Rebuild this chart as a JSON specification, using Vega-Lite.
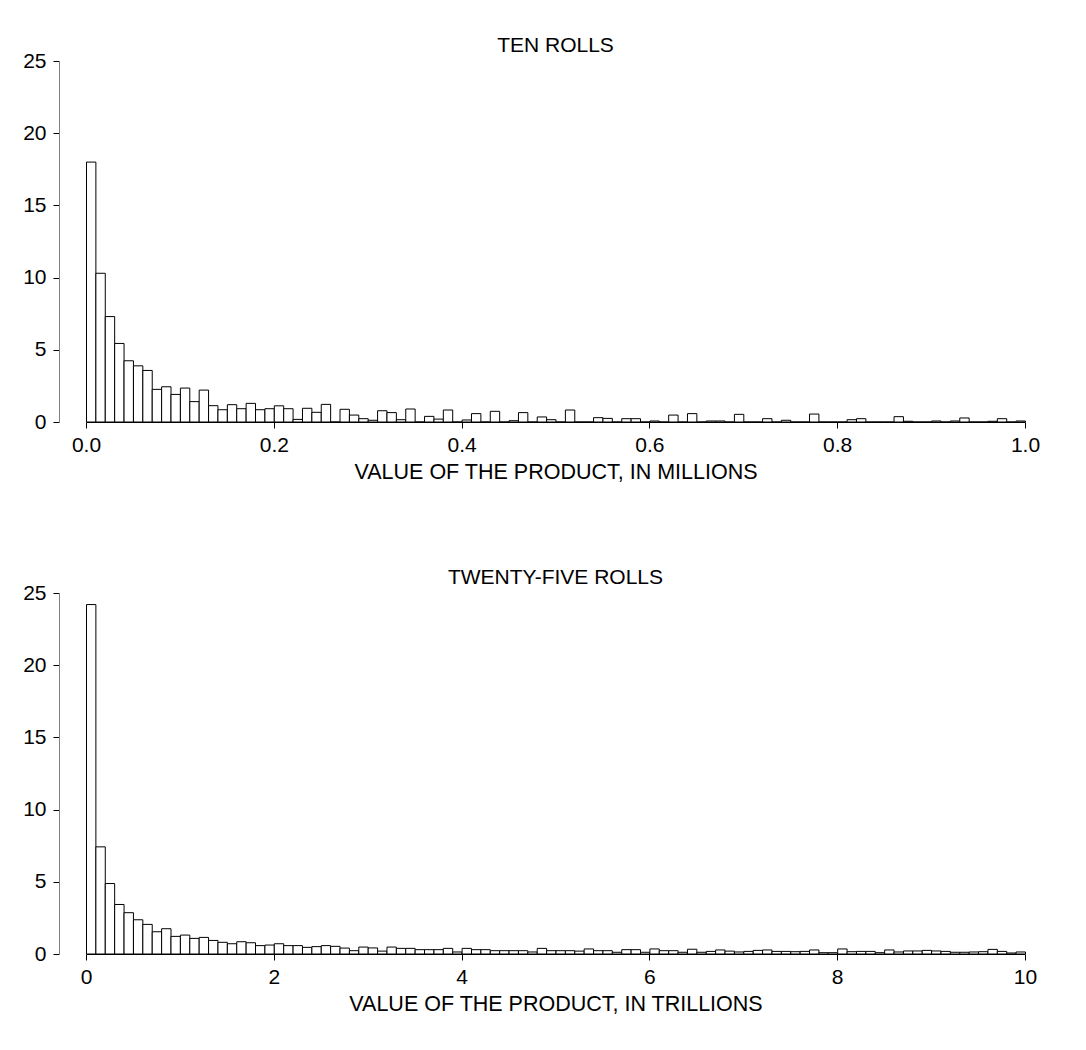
{
  "$schema": "https://vega.github.io/schema/vega-lite/v6.json",
  "background": "white",
  "padding": {"left": 22, "top": 35, "right": 10, "bottom": 10},
  "spacing": 84,
  "datasets": {
    "ten": [
      {"bin_start": 0.00, "bin_end": 0.01, "percent": 18.0},
      {"bin_start": 0.01, "bin_end": 0.02, "percent": 10.3},
      {"bin_start": 0.02, "bin_end": 0.03, "percent": 7.3},
      {"bin_start": 0.03, "bin_end": 0.04, "percent": 5.44},
      {"bin_start": 0.04, "bin_end": 0.05, "percent": 4.24},
      {"bin_start": 0.05, "bin_end": 0.06, "percent": 3.89},
      {"bin_start": 0.06, "bin_end": 0.07, "percent": 3.57},
      {"bin_start": 0.07, "bin_end": 0.08, "percent": 2.26},
      {"bin_start": 0.08, "bin_end": 0.09, "percent": 2.44},
      {"bin_start": 0.09, "bin_end": 0.10, "percent": 1.91},
      {"bin_start": 0.10, "bin_end": 0.11, "percent": 2.35},
      {"bin_start": 0.11, "bin_end": 0.12, "percent": 1.41},
      {"bin_start": 0.12, "bin_end": 0.13, "percent": 2.21},
      {"bin_start": 0.13, "bin_end": 0.14, "percent": 1.13},
      {"bin_start": 0.14, "bin_end": 0.15, "percent": 0.85},
      {"bin_start": 0.15, "bin_end": 0.16, "percent": 1.2},
      {"bin_start": 0.16, "bin_end": 0.17, "percent": 0.92},
      {"bin_start": 0.17, "bin_end": 0.18, "percent": 1.29},
      {"bin_start": 0.18, "bin_end": 0.19, "percent": 0.85},
      {"bin_start": 0.19, "bin_end": 0.20, "percent": 0.92},
      {"bin_start": 0.20, "bin_end": 0.21, "percent": 1.12},
      {"bin_start": 0.21, "bin_end": 0.22, "percent": 0.92},
      {"bin_start": 0.22, "bin_end": 0.23, "percent": 0.18},
      {"bin_start": 0.23, "bin_end": 0.24, "percent": 0.95},
      {"bin_start": 0.24, "bin_end": 0.25, "percent": 0.67},
      {"bin_start": 0.25, "bin_end": 0.26, "percent": 1.22},
      {"bin_start": 0.26, "bin_end": 0.27, "percent": 0},
      {"bin_start": 0.27, "bin_end": 0.28, "percent": 0.88},
      {"bin_start": 0.28, "bin_end": 0.29, "percent": 0.48},
      {"bin_start": 0.29, "bin_end": 0.30, "percent": 0.23},
      {"bin_start": 0.30, "bin_end": 0.31, "percent": 0.12},
      {"bin_start": 0.31, "bin_end": 0.32, "percent": 0.78},
      {"bin_start": 0.32, "bin_end": 0.33, "percent": 0.65},
      {"bin_start": 0.33, "bin_end": 0.34, "percent": 0.16},
      {"bin_start": 0.34, "bin_end": 0.35, "percent": 0.9},
      {"bin_start": 0.35, "bin_end": 0.36, "percent": 0},
      {"bin_start": 0.36, "bin_end": 0.37, "percent": 0.39},
      {"bin_start": 0.37, "bin_end": 0.38, "percent": 0.2},
      {"bin_start": 0.38, "bin_end": 0.39, "percent": 0.83},
      {"bin_start": 0.39, "bin_end": 0.40, "percent": 0},
      {"bin_start": 0.40, "bin_end": 0.41, "percent": 0.14},
      {"bin_start": 0.41, "bin_end": 0.42, "percent": 0.58},
      {"bin_start": 0.42, "bin_end": 0.43, "percent": 0},
      {"bin_start": 0.43, "bin_end": 0.44, "percent": 0.74},
      {"bin_start": 0.44, "bin_end": 0.45, "percent": 0},
      {"bin_start": 0.45, "bin_end": 0.46, "percent": 0.09},
      {"bin_start": 0.46, "bin_end": 0.47, "percent": 0.65},
      {"bin_start": 0.47, "bin_end": 0.48, "percent": 0},
      {"bin_start": 0.48, "bin_end": 0.49, "percent": 0.35},
      {"bin_start": 0.49, "bin_end": 0.50, "percent": 0.16},
      {"bin_start": 0.50, "bin_end": 0.51, "percent": 0},
      {"bin_start": 0.51, "bin_end": 0.52, "percent": 0.83},
      {"bin_start": 0.52, "bin_end": 0.53, "percent": 0},
      {"bin_start": 0.53, "bin_end": 0.54, "percent": 0},
      {"bin_start": 0.54, "bin_end": 0.55, "percent": 0.3},
      {"bin_start": 0.55, "bin_end": 0.56, "percent": 0.25},
      {"bin_start": 0.56, "bin_end": 0.57, "percent": 0},
      {"bin_start": 0.57, "bin_end": 0.58, "percent": 0.23},
      {"bin_start": 0.58, "bin_end": 0.59, "percent": 0.23},
      {"bin_start": 0.59, "bin_end": 0.60, "percent": 0},
      {"bin_start": 0.60, "bin_end": 0.61, "percent": 0.07},
      {"bin_start": 0.61, "bin_end": 0.62, "percent": 0},
      {"bin_start": 0.62, "bin_end": 0.63, "percent": 0.48},
      {"bin_start": 0.63, "bin_end": 0.64, "percent": 0},
      {"bin_start": 0.64, "bin_end": 0.65, "percent": 0.58},
      {"bin_start": 0.65, "bin_end": 0.66, "percent": 0},
      {"bin_start": 0.66, "bin_end": 0.67, "percent": 0.07},
      {"bin_start": 0.67, "bin_end": 0.68, "percent": 0.07},
      {"bin_start": 0.68, "bin_end": 0.69, "percent": 0},
      {"bin_start": 0.69, "bin_end": 0.70, "percent": 0.53},
      {"bin_start": 0.70, "bin_end": 0.71, "percent": 0},
      {"bin_start": 0.71, "bin_end": 0.72, "percent": 0},
      {"bin_start": 0.72, "bin_end": 0.73, "percent": 0.23},
      {"bin_start": 0.73, "bin_end": 0.74, "percent": 0},
      {"bin_start": 0.74, "bin_end": 0.75, "percent": 0.12},
      {"bin_start": 0.75, "bin_end": 0.76, "percent": 0},
      {"bin_start": 0.76, "bin_end": 0.77, "percent": 0},
      {"bin_start": 0.77, "bin_end": 0.78, "percent": 0.55},
      {"bin_start": 0.78, "bin_end": 0.79, "percent": 0},
      {"bin_start": 0.79, "bin_end": 0.80, "percent": 0},
      {"bin_start": 0.80, "bin_end": 0.81, "percent": 0},
      {"bin_start": 0.81, "bin_end": 0.82, "percent": 0.16},
      {"bin_start": 0.82, "bin_end": 0.83, "percent": 0.23},
      {"bin_start": 0.83, "bin_end": 0.84, "percent": 0},
      {"bin_start": 0.84, "bin_end": 0.85, "percent": 0},
      {"bin_start": 0.85, "bin_end": 0.86, "percent": 0},
      {"bin_start": 0.86, "bin_end": 0.87, "percent": 0.37},
      {"bin_start": 0.87, "bin_end": 0.88, "percent": 0.05},
      {"bin_start": 0.88, "bin_end": 0.89, "percent": 0},
      {"bin_start": 0.89, "bin_end": 0.90, "percent": 0},
      {"bin_start": 0.90, "bin_end": 0.91, "percent": 0.07},
      {"bin_start": 0.91, "bin_end": 0.92, "percent": 0},
      {"bin_start": 0.92, "bin_end": 0.93, "percent": 0.07},
      {"bin_start": 0.93, "bin_end": 0.94, "percent": 0.28},
      {"bin_start": 0.94, "bin_end": 0.95, "percent": 0},
      {"bin_start": 0.95, "bin_end": 0.96, "percent": 0},
      {"bin_start": 0.96, "bin_end": 0.97, "percent": 0.05},
      {"bin_start": 0.97, "bin_end": 0.98, "percent": 0.23},
      {"bin_start": 0.98, "bin_end": 0.99, "percent": 0},
      {"bin_start": 0.99, "bin_end": 1.00, "percent": 0.07}
    ],
    "twentyfive": [
      {"bin_start": 0.0, "bin_end": 0.1, "percent": 24.2},
      {"bin_start": 0.1, "bin_end": 0.2, "percent": 7.42},
      {"bin_start": 0.2, "bin_end": 0.3, "percent": 4.88},
      {"bin_start": 0.3, "bin_end": 0.4, "percent": 3.43},
      {"bin_start": 0.4, "bin_end": 0.5, "percent": 2.86},
      {"bin_start": 0.5, "bin_end": 0.6, "percent": 2.37},
      {"bin_start": 0.6, "bin_end": 0.7, "percent": 2.05},
      {"bin_start": 0.7, "bin_end": 0.8, "percent": 1.54},
      {"bin_start": 0.8, "bin_end": 0.9, "percent": 1.75},
      {"bin_start": 0.9, "bin_end": 1.0, "percent": 1.22},
      {"bin_start": 1.0, "bin_end": 1.1, "percent": 1.31},
      {"bin_start": 1.1, "bin_end": 1.2, "percent": 1.08},
      {"bin_start": 1.2, "bin_end": 1.3, "percent": 1.15},
      {"bin_start": 1.3, "bin_end": 1.4, "percent": 0.94},
      {"bin_start": 1.4, "bin_end": 1.5, "percent": 0.81},
      {"bin_start": 1.5, "bin_end": 1.6, "percent": 0.71},
      {"bin_start": 1.6, "bin_end": 1.7, "percent": 0.85},
      {"bin_start": 1.7, "bin_end": 1.8, "percent": 0.78},
      {"bin_start": 1.8, "bin_end": 1.9, "percent": 0.58},
      {"bin_start": 1.9, "bin_end": 2.0, "percent": 0.62},
      {"bin_start": 2.0, "bin_end": 2.1, "percent": 0.71},
      {"bin_start": 2.1, "bin_end": 2.2, "percent": 0.58},
      {"bin_start": 2.2, "bin_end": 2.3, "percent": 0.58},
      {"bin_start": 2.3, "bin_end": 2.4, "percent": 0.46},
      {"bin_start": 2.4, "bin_end": 2.5, "percent": 0.51},
      {"bin_start": 2.5, "bin_end": 2.6, "percent": 0.58},
      {"bin_start": 2.6, "bin_end": 2.7, "percent": 0.53},
      {"bin_start": 2.7, "bin_end": 2.8, "percent": 0.41},
      {"bin_start": 2.8, "bin_end": 2.9, "percent": 0.23},
      {"bin_start": 2.9, "bin_end": 3.0, "percent": 0.48},
      {"bin_start": 3.0, "bin_end": 3.1, "percent": 0.42},
      {"bin_start": 3.1, "bin_end": 3.2, "percent": 0.2},
      {"bin_start": 3.2, "bin_end": 3.3, "percent": 0.48},
      {"bin_start": 3.3, "bin_end": 3.4, "percent": 0.39},
      {"bin_start": 3.4, "bin_end": 3.5, "percent": 0.39},
      {"bin_start": 3.5, "bin_end": 3.6, "percent": 0.3},
      {"bin_start": 3.6, "bin_end": 3.7, "percent": 0.3},
      {"bin_start": 3.7, "bin_end": 3.8, "percent": 0.3},
      {"bin_start": 3.8, "bin_end": 3.9, "percent": 0.39},
      {"bin_start": 3.9, "bin_end": 4.0, "percent": 0.14},
      {"bin_start": 4.0, "bin_end": 4.1, "percent": 0.39},
      {"bin_start": 4.1, "bin_end": 4.2, "percent": 0.3},
      {"bin_start": 4.2, "bin_end": 4.3, "percent": 0.3},
      {"bin_start": 4.3, "bin_end": 4.4, "percent": 0.23},
      {"bin_start": 4.4, "bin_end": 4.5, "percent": 0.23},
      {"bin_start": 4.5, "bin_end": 4.6, "percent": 0.23},
      {"bin_start": 4.6, "bin_end": 4.7, "percent": 0.23},
      {"bin_start": 4.7, "bin_end": 4.8, "percent": 0.14},
      {"bin_start": 4.8, "bin_end": 4.9, "percent": 0.39},
      {"bin_start": 4.9, "bin_end": 5.0, "percent": 0.23},
      {"bin_start": 5.0, "bin_end": 5.1, "percent": 0.23},
      {"bin_start": 5.1, "bin_end": 5.2, "percent": 0.23},
      {"bin_start": 5.2, "bin_end": 5.3, "percent": 0.2},
      {"bin_start": 5.3, "bin_end": 5.4, "percent": 0.35},
      {"bin_start": 5.4, "bin_end": 5.5, "percent": 0.23},
      {"bin_start": 5.5, "bin_end": 5.6, "percent": 0.23},
      {"bin_start": 5.6, "bin_end": 5.7, "percent": 0.12},
      {"bin_start": 5.7, "bin_end": 5.8, "percent": 0.3},
      {"bin_start": 5.8, "bin_end": 5.9, "percent": 0.3},
      {"bin_start": 5.9, "bin_end": 6.0, "percent": 0.12},
      {"bin_start": 6.0, "bin_end": 6.1, "percent": 0.35},
      {"bin_start": 6.1, "bin_end": 6.2, "percent": 0.23},
      {"bin_start": 6.2, "bin_end": 6.3, "percent": 0.23},
      {"bin_start": 6.3, "bin_end": 6.4, "percent": 0.12},
      {"bin_start": 6.4, "bin_end": 6.5, "percent": 0.33},
      {"bin_start": 6.5, "bin_end": 6.6, "percent": 0.12},
      {"bin_start": 6.6, "bin_end": 6.7, "percent": 0.18},
      {"bin_start": 6.7, "bin_end": 6.8, "percent": 0.28},
      {"bin_start": 6.8, "bin_end": 6.9, "percent": 0.2},
      {"bin_start": 6.9, "bin_end": 7.0, "percent": 0.14},
      {"bin_start": 7.0, "bin_end": 7.1, "percent": 0.18},
      {"bin_start": 7.1, "bin_end": 7.2, "percent": 0.25},
      {"bin_start": 7.2, "bin_end": 7.3, "percent": 0.28},
      {"bin_start": 7.3, "bin_end": 7.4, "percent": 0.18},
      {"bin_start": 7.4, "bin_end": 7.5, "percent": 0.18},
      {"bin_start": 7.5, "bin_end": 7.6, "percent": 0.16},
      {"bin_start": 7.6, "bin_end": 7.7, "percent": 0.18},
      {"bin_start": 7.7, "bin_end": 7.8, "percent": 0.28},
      {"bin_start": 7.8, "bin_end": 7.9, "percent": 0.09},
      {"bin_start": 7.9, "bin_end": 8.0, "percent": 0.09},
      {"bin_start": 8.0, "bin_end": 8.1, "percent": 0.35},
      {"bin_start": 8.1, "bin_end": 8.2, "percent": 0.16},
      {"bin_start": 8.2, "bin_end": 8.3, "percent": 0.18},
      {"bin_start": 8.3, "bin_end": 8.4, "percent": 0.18},
      {"bin_start": 8.4, "bin_end": 8.5, "percent": 0.09},
      {"bin_start": 8.5, "bin_end": 8.6, "percent": 0.28},
      {"bin_start": 8.6, "bin_end": 8.7, "percent": 0.14},
      {"bin_start": 8.7, "bin_end": 8.8, "percent": 0.21},
      {"bin_start": 8.8, "bin_end": 8.9, "percent": 0.21},
      {"bin_start": 8.9, "bin_end": 9.0, "percent": 0.25},
      {"bin_start": 9.0, "bin_end": 9.1, "percent": 0.21},
      {"bin_start": 9.1, "bin_end": 9.2, "percent": 0.18},
      {"bin_start": 9.2, "bin_end": 9.3, "percent": 0.12},
      {"bin_start": 9.3, "bin_end": 9.4, "percent": 0.12},
      {"bin_start": 9.4, "bin_end": 9.5, "percent": 0.14},
      {"bin_start": 9.5, "bin_end": 9.6, "percent": 0.16},
      {"bin_start": 9.6, "bin_end": 9.7, "percent": 0.32},
      {"bin_start": 9.7, "bin_end": 9.8, "percent": 0.18},
      {"bin_start": 9.8, "bin_end": 9.9, "percent": 0.07},
      {"bin_start": 9.9, "bin_end": 10.0, "percent": 0.14}
    ]
  },
  "config": {
    "font": "Liberation Sans",
    "view": {"stroke": null},
    "title": {"fontSize": 21, "fontWeight": "normal", "color": "black", "anchor": "middle", "offset": -6},
    "axis": {
      "labelFontSize": 21,
      "titleFontSize": 21.5,
      "titleFontWeight": "normal",
      "labelColor": "black",
      "titleColor": "black",
      "tickColor": "black",
      "domainColor": "black",
      "grid": false,
      "tickSize": 6,
      "domainWidth": 1,
      "tickWidth": 1
    }
  },
  "vconcat": [
    {
      "title": "TEN ROLLS",
      "width": 939,
      "height": 361,
      "data": {"name": "ten"},
      "mark": {"type": "bar", "fill": "white", "stroke": "black", "strokeWidth": 1, "binSpacing": 0},
      "encoding": {
        "x": {
          "field": "bin_start",
          "type": "quantitative",
          "bin": {"binned": true, "step": 0.01},
          "scale": {"domain": [0, 1], "nice": false},
          "axis": {"title": "VALUE OF THE PRODUCT, IN MILLIONS", "values": [0, 0.2, 0.4, 0.6, 0.8, 1.0], "format": ".1f", "labelPadding": 6, "titlePadding": 6, "labelFlush": false}
        },
        "x2": {"field": "bin_end"},
        "y": {
          "field": "percent",
          "type": "quantitative",
          "scale": {"domain": [0, 25], "nice": false},
          "axis": {"title": null, "values": [0, 5, 10, 15, 20, 25], "offset": 27, "domainColor": "#808080", "labelPadding": 7}
        }
      }
    },
    {
      "title": "TWENTY-FIVE ROLLS",
      "width": 939,
      "height": 361,
      "data": {"name": "twentyfive"},
      "mark": {"type": "bar", "fill": "white", "stroke": "black", "strokeWidth": 1, "binSpacing": 0},
      "encoding": {
        "x": {
          "field": "bin_start",
          "type": "quantitative",
          "bin": {"binned": true, "step": 0.1},
          "scale": {"domain": [0, 10], "nice": false},
          "axis": {"title": "VALUE OF THE PRODUCT, IN TRILLIONS", "values": [0, 2, 4, 6, 8, 10], "format": "d", "labelPadding": 6, "titlePadding": 6, "labelFlush": false}
        },
        "x2": {"field": "bin_end"},
        "y": {
          "field": "percent",
          "type": "quantitative",
          "scale": {"domain": [0, 25], "nice": false},
          "axis": {"title": null, "values": [0, 5, 10, 15, 20, 25], "offset": 27, "domainColor": "#808080", "labelPadding": 7}
        }
      }
    }
  ]
}
